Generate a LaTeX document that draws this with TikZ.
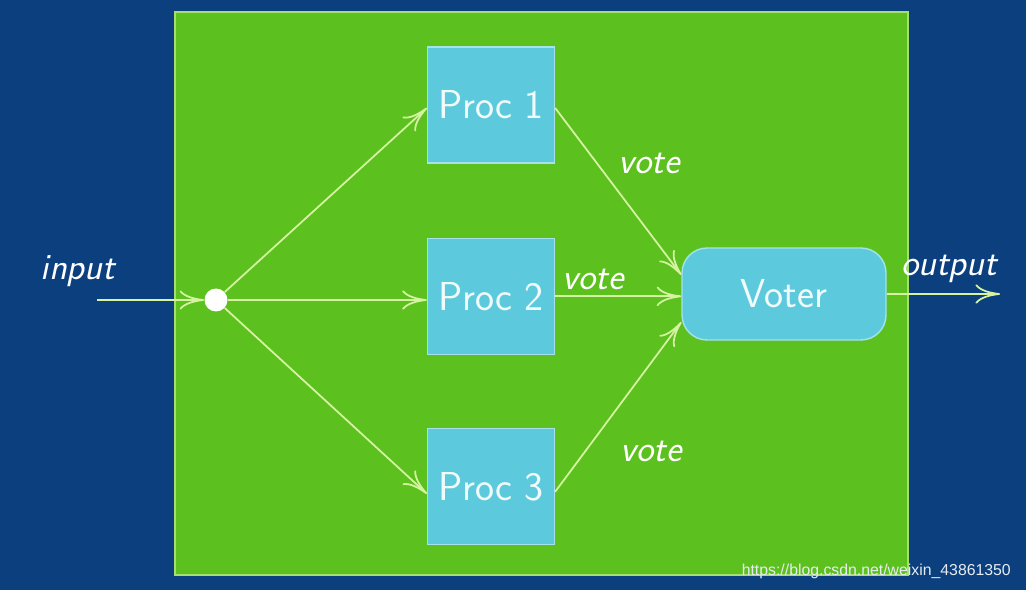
\documentclass[tikz,border=0pt]{standalone}
\usepackage{fontspec}
\newfontfamily\markfont{Liberation Sans}
\usepackage{tikz}
\usetikzlibrary{positioning, arrows.meta}
\definecolor{slideBlue}{HTML}{0B3F7E}
\definecolor{panelGreen}{HTML}{5CC11F}
\definecolor{procCyan}{HTML}{5CCADC}
\definecolor{wireYellow}{HTML}{D6F3A2}

\begin{document}
\begin{tikzpicture}[x=0.02cm, y=-0.02cm, font=\sffamily\fontsize{23}{27}\selectfont]

\fill[slideBlue] (0,0) rectangle (1026,590);
\draw[wireYellow!60!panelGreen, line width=1pt, fill=panelGreen] (175,12) rectangle (908,575);

\node[
  draw=procCyan!55!white,
  fill=procCyan,
  line width=0.8pt,
  minimum width=2.54cm,
  minimum height=2.32cm,
  text=white!92!procCyan
] (proc1) at (491,105)
{Proc 1};

\node[
  draw=procCyan!55!white,
  fill=procCyan,
  line width=0.8pt,
  minimum width=2.54cm,
  minimum height=2.32cm,
  text=white!92!procCyan,
  below=1.48cm of proc1
] (proc2)
{Proc 2};

\node[
  draw=procCyan!55!white,
  fill=procCyan,
  line width=0.8pt,
  minimum width=2.54cm,
  minimum height=2.32cm,
  text=white!92!procCyan,
  below=1.46cm of proc2
] (proc3)
{Proc 3};

\node[
  draw=procCyan!55!white,
  fill=procCyan,
  line width=0.8pt,
  rounded corners=0.5cm,
  minimum width=4.08cm,
  minimum height=1.84cm,
  text=white!92!procCyan
] (voter) at (784,294)
{Voter};

\node[circle, fill=white, inner sep=0pt, minimum size=0.46cm] (split) at (216,300) {};
\coordinate (in) at (97,300);
\coordinate (out) at (1000,294);

\draw[-{To[length=14pt, width=11pt]}, wireYellow, line width=1pt]
(in) -- node[at start, above, xshift=-0.38cm, yshift=0.14cm, text=white, font=\sffamily\itshape\fontsize{21}{25}\selectfont]{input} (split);

\draw[-{To[length=14pt, width=11pt]}, wireYellow, line width=1pt]
(split) -- ([yshift=-0.06cm]proc1.west);
\draw[-{To[length=14pt, width=11pt]}, wireYellow, line width=1pt]
(split) -- (split -| proc2.west);
\draw[-{To[length=14pt, width=11pt]}, wireYellow, line width=1pt]
(split) -- ([yshift=-0.14cm]proc3.west);

\draw[-{To[length=14pt, width=11pt]}, wireYellow, line width=1pt]
([yshift=-0.06cm]proc1.east) -- node[pos=0.33, anchor=west, xshift=0.3cm, text=white, font=\sffamily\itshape\fontsize{21}{25}\selectfont]{vote} ([yshift=0.38cm]voter.west);
\draw[-{To[length=14pt, width=11pt]}, wireYellow, line width=1pt]
(proc2.east) -- node[pos=0.3, above, text=white, font=\sffamily\itshape\fontsize{21}{25}\selectfont]{vote} (proc2.east -| voter.west);
\draw[-{To[length=14pt, width=11pt]}, wireYellow, line width=1pt]
([yshift=-0.1cm]proc3.east) -- node[pos=0.235, anchor=west, xshift=0.58cm, text=white, font=\sffamily\itshape\fontsize{21}{25}\selectfont]{vote} ([yshift=-0.56cm]voter.west);

\draw[-{To[length=14pt, width=11pt]}, wireYellow, line width=1pt]
(voter.east) -- node[pos=0.55, above, yshift=0.1cm, text=white, font=\sffamily\itshape\fontsize{21}{25}\selectfont]{output} (out);

\node[anchor=east, text=white!90!slideBlue, font=\markfont\fontsize{9}{11}\selectfont] (mark) at (1017,571)
{https://blog.csdn.net/weixin\_43861350};

\end{tikzpicture}
\end{document}
